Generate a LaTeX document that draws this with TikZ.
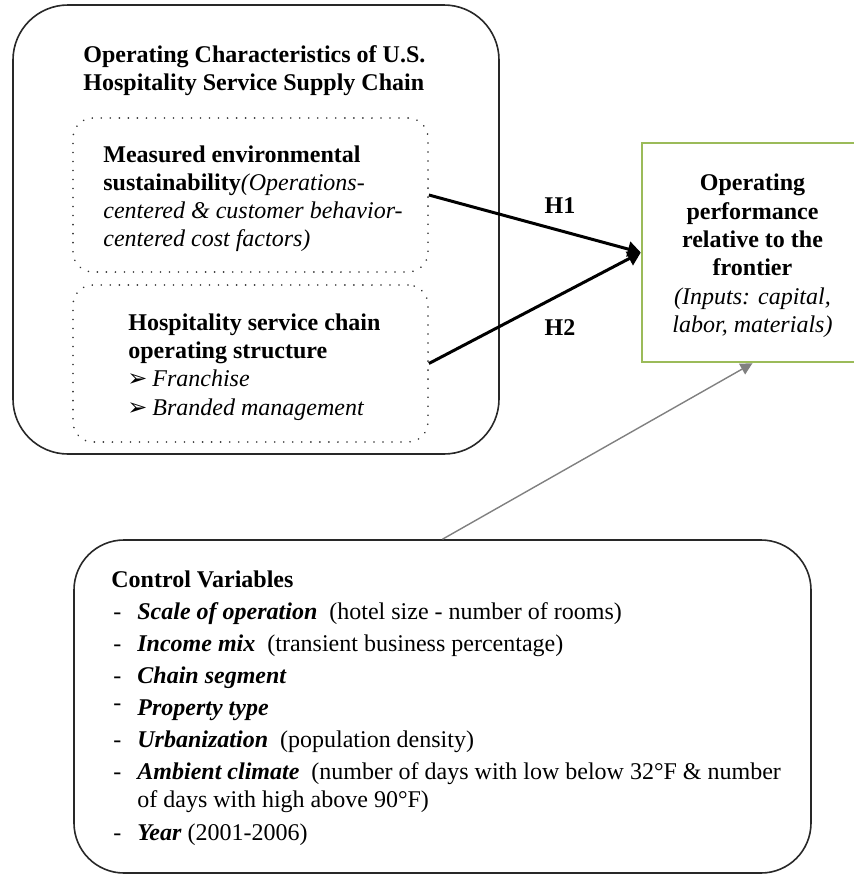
\documentclass[tikz,border=0pt]{standalone}
\usepackage{fontspec}
\setmainfont{Liberation Serif}
\newfontfamily\dejavu{DejaVu Sans}
\usetikzlibrary{arrows.meta}
\definecolor{frontgreen}{RGB}{155,187,89}
\definecolor{boxline}{RGB}{40,40,40}
\begin{document}
\begin{tikzpicture}[x=0.5pt,y=-0.5pt,
  txt/.style={inner sep=0pt, anchor=base west, font=\fontsize{12}{14}\selectfont},
  ctxt/.style={inner sep=0pt, anchor=base, font=\fontsize{12}{14}\selectfont},
  bigbox/.style={draw=boxline, line width=0.8pt, rectangle},
  dotbox/.style={draw=black!80, line width=0.9pt, rectangle, rounded corners=10pt,
    dash pattern=on 0.01pt off 4.5pt, line cap=round,
    minimum width=177.5pt},
  hyp/.style={draw=black, line width=1.5pt, -{Triangle[length=6.5pt,width=7.5pt]}},
  ctl/.style={draw=black!50, line width=0.7pt, -{Triangle[length=6pt,width=6pt]}},
  bul/.style={inner sep=0pt, anchor=base west, font=\dejavu\fontsize{12}{14}\selectfont}
]
\useasboundingbox (0,0) rectangle (854,875);

% boxes
\node[bigbox, rounded corners=27.5pt, minimum width=243pt, minimum height=224.5pt] (outer) at (256,229.5) {};
\node[dotbox, minimum height=77pt] (d1) at (250.5,195) {};
\node[dotbox, minimum height=78.5pt] (d2) at (250.5,363.5) {};
\node[draw=frontgreen, line width=1.2pt, rectangle, minimum width=110.5pt, minimum height=109.5pt] (perf) at (752.5,252.5) {};
\node[bigbox, rounded corners=25pt, minimum width=368.5pt, minimum height=166.5pt] (ctrl) at (442.5,706.5) {};

% title
\node[txt] (t1) at (83,62) {\textbf{Operating Characteristics of U.S.}};
\node[txt] (t2) at (83,90) {\textbf{Hospitality Service Supply Chain}};

% box 1 text
\node[txt] (a1) at (103,162) {\textbf{Measured environmental}};
\node[txt] (a2) at (103,190) {\textbf{sustainability}\textit{(Operations-}};
\node[txt] (a3) at (103,218) {\textit{centered \& customer behavior-}};
\node[txt] (a4) at (103,246) {\textit{centered cost factors)}};

% box 2 text
\node[txt] (b1) at (128,330) {\textbf{Hospitality service chain}};
\node[txt] (b2) at (128,358) {\textbf{operating structure}};
\node[bul] (b3a) at (127,386) {➢};
\node[txt] (b3) at (152,386) {\textit{Franchise}};
\node[bul] (b4a) at (127,415) {➢};
\node[txt] (b4) at (152,415) {\textit{Branded management}};

% performance text
\node[ctxt] (p1) at (752.5,190) {\textbf{Operating}};
\node[ctxt] (p2) at (752.5,219) {\textbf{performance}};
\node[ctxt] (p3) at (752.5,247) {\textbf{relative to the}};
\node[ctxt] (p4) at (752.5,275) {\textbf{frontier}};
\node[ctxt] (p5) at (752.5,304) {\textit{(Inputs: capital,}};
\node[ctxt] (p6) at (752.5,332) {\textit{labor, materials)}};

% hypotheses
\draw[hyp] (d1.east) -- (perf.west);
\draw[hyp] (d2.east) -- (perf.west);
\node[ctxt] (h1) at (560,213) {\textbf{H1}};
\node[ctxt] (h2) at (560,335) {\textbf{H2}};

% control arrow
\draw[ctl] (ctrl.north) -- (perf.south);

% control variables
\node[txt] (c0) at (111,587) {\textbf{Control Variables}};
\node[txt] (c1d) at (113,619) {-};
\node[txt] (c1) at (137,619) {\textbf{\textit{Scale of operation}}\ \ (hotel size - number of rooms)};
\node[txt] (c2d) at (113,651) {-};
\node[txt] (c2) at (137,651) {\textbf{\textit{Income mix}}\ \ (transient business percentage)};
\node[txt] (c3d) at (113,683) {-};
\node[txt] (c3) at (137,683) {\textbf{\textit{Chain segment}}};
\node[txt] (c4d) at (113,710) {-};
\node[txt] (c4) at (137,715) {\textbf{\textit{Property type}}};
\node[txt] (c5d) at (113,747) {-};
\node[txt] (c5) at (137,747) {\textbf{\textit{Urbanization}}\ \ (population density)};
\node[txt] (c6d) at (113,779) {-};
\node[txt] (c6) at (137,779) {\textbf{\textit{Ambient climate}}\ \ (number of days with low below 32°F \& number};
\node[txt] (c7) at (137,807) {of days with high above 90°F)};
\node[txt] (c8d) at (113,840) {-};
\node[txt] (c8) at (137,840) {\textbf{\textit{Year}} (2001-2006)};
\end{tikzpicture}
\end{document}
